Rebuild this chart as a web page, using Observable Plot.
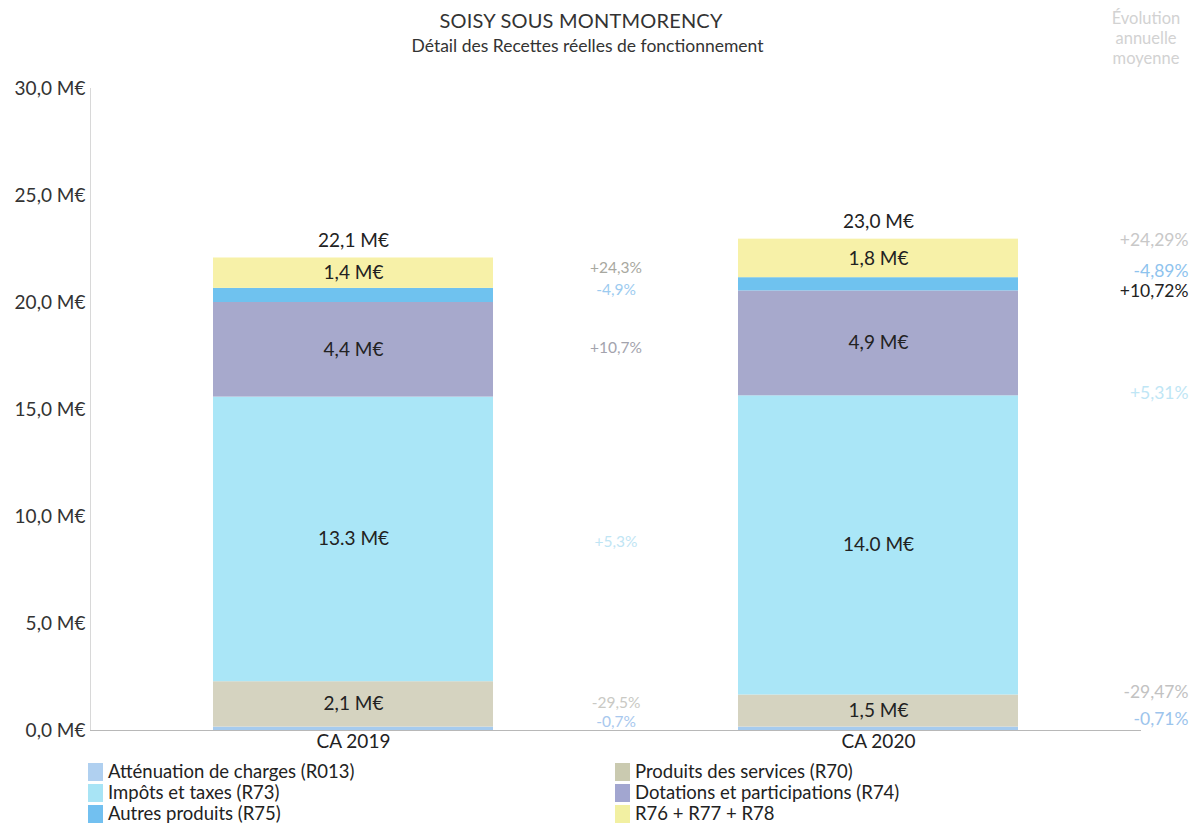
<!DOCTYPE html>
<html>
<head>
<meta charset="utf-8">
<script src="https://cdn.jsdelivr.net/npm/d3@7"></script>
<script src="https://cdn.jsdelivr.net/npm/@observablehq/plot@0.6"></script>
<style>
  body { margin: 0; background: #fff; font-family: Lato, "Open Sans", sans-serif; width: 1196px; height: 824px; overflow: hidden; position: relative; color: #222; }
  #head { position: relative; height: 62px; }
  #t1 { position: absolute; left: 0; width: 1162px; top: 8px; text-align: center; font-size: 20px; color: #333; letter-spacing: 0.2px; }
  #t2 { position: absolute; left: 0; width: 1175px; top: 35px; text-align: center; font-size: 17.5px; color: #333; }
  #evo { position: absolute; right: 2px; top: 8px; width: 96px; text-align: center; font-size: 16.5px; line-height: 20px; color: #d2d2d2; }
  #chart svg { display: block; }
  #legend { position: absolute; top: 761px; left: 88px; display: grid; grid-template-columns: 527px 500px; }
  .item { display: flex; align-items: center; height: 21px; line-height: 21px; font-size: 18.5px; color: #222; }
  .sw { width: 15px; height: 18px; margin-right: 5px; flex: none; }
</style>
</head>
<body>
<div id="head">
  <div id="t1"></div>
  <div id="t2"></div>
  <div id="evo"></div>
</div>
<div id="chart"></div>
<div id="legend"></div>
<script>
// ---- data ----
const title = "SOISY SOUS MONTMORENCY";
const subtitle = "Détail des Recettes réelles de fonctionnement";
const evolutionHeader = ["Évolution", "annuelle", "moyenne"];
const years = ["CA 2019", "CA 2020"];
const categories = ["R013", "R70", "R73", "R74", "R75", "R76"];
const categoryNames = [
  "Atténuation de charges (R013)",
  "Produits des services (R70)",
  "Impôts et taxes (R73)",
  "Dotations et participations (R74)",
  "Autres produits (R75)",
  "R76 + R77 + R78"
];
const values2019 = [0.16, 2.12, 13.30, 4.42, 0.66, 1.42];
const values2020 = [0.16, 1.50, 13.98, 4.90, 0.62, 1.80];
const evolution = [-0.71, -29.47, 5.31, 10.72, -4.89, 24.29];
const yTicks = [0, 5, 10, 15, 20, 25, 30];

// ---- styles ----
const colors = ["#a6cbee", "#d5d3c0", "#aae6f7", "#a7a9cc", "#6fc2ef", "#f7f1a8"];
const legendColors = ["#b0d0f0", "#cacab0", "#a8e4f5", "#a2a6d0", "#72c0f0", "#f2f0a2"];
const midColors = ["#a8c8ee", "#c9c9c4", "#bfe5f4", "#a3a3ad", "#9ccbf0", "#a8a8a0"];
const rightColors = ["#9cc4ec", "#c2c2c2", "#bfe6f5", "#222222", "#8ec3ee", "#c8c8c8"];
const midDy = [-7, -1, 3, -2, -5, -5];
const rightDy = [-9, -19, -152, -52, -13, -18];

// ---- build table ----
const valuesByYear = [values2019, values2020];
const rows = [];
years.forEach((yr, yi) => {
  let acc = 0;
  categories.forEach((c, ci) => {
    const v = valuesByYear[yi][ci];
    rows.push({year: yr, cat: c, idx: ci, value: v, mid: acc + v / 2});
    acc += v;
  });
});
const totals = years.map((yr, yi) => ({year: yr, total: d3.sum(valuesByYear[yi])}));
const fr1 = v => v.toFixed(1).replace(".", ",");
const pct = (v, n) => (v > 0 ? "+" : "") + v.toFixed(n).replace(".", ",") + "%";
const labelRows = rows.filter(d => d.value >= 1);
const mids2019 = rows.filter(d => d.year === years[0]);
const mids2020 = rows.filter(d => d.year === years[1]);

document.getElementById("t1").textContent = title;
document.getElementById("t2").textContent = subtitle;
document.getElementById("evo").innerHTML = evolutionHeader.join("<br>");

const chart = Plot.plot({
  width: 1196,
  height: 699,
  marginLeft: 90,
  marginRight: 55,
  marginTop: 26,
  marginBottom: 31,
  style: {fontFamily: "Lato, 'Open Sans', sans-serif", fontSize: "18px", color: "#222", background: "#fff"},
  x: {domain: years, paddingInner: 0.467, paddingOuter: 0.234, label: null},
  y: {domain: [0, 30], label: null},
  color: {domain: categories, range: colors},
  marks: [
    Plot.frame({anchor: "left", stroke: "#d8d8d8"}),
    Plot.barY(rows, {x: "year", y: "value", fill: "cat", order: categories}),
    Plot.ruleY([0], {stroke: "#b8b8b8", strokeWidth: 1}),
    Plot.axisY({ticks: yTicks, tickSize: 0, tickPadding: 5, tickFormat: d => fr1(d) + " M€", fontSize: 19, fill: "#333", label: null}),
    Plot.axisX({tickSize: 0, tickPadding: 4, fontSize: 19, fill: "#222", label: null}),
    Plot.text(labelRows, {
      x: "year", y: "mid", fontSize: 19, fill: "#222",
      text: d => (d.cat === "R73" ? d.value.toFixed(1) : fr1(d.value)) + " M€"
    }),
    Plot.text(totals, {x: "year", y: "total", dy: -17, fontSize: 19, fill: "#222", text: d => fr1(d.total) + " M€"}),
    ...mids2019.map(d => Plot.text([d], {
      y: "mid", frameAnchor: "middle", textAnchor: "middle", fontSize: 15.5,
      dy: midDy[d.idx], text: () => pct(evolution[d.idx], 1), fill: midColors[d.idx]
    })),
    ...mids2020.map(d => Plot.text([d], {
      y: "mid", frameAnchor: "right", textAnchor: "end", fontSize: 17.5,
      dx: 47, dy: rightDy[d.idx], text: () => pct(evolution[d.idx], 2), fill: rightColors[d.idx]
    }))
  ]
});
document.getElementById("chart").appendChild(chart);

const legend = document.getElementById("legend");
categories.forEach((c, i) => {
  const item = document.createElement("div");
  item.className = "item";
  const sw = document.createElement("span");
  sw.className = "sw";
  sw.style.background = legendColors[i];
  const tx = document.createElement("span");
  tx.textContent = categoryNames[i];
  item.appendChild(sw);
  item.appendChild(tx);
  legend.appendChild(item);
});
</script>
</body>
</html>
